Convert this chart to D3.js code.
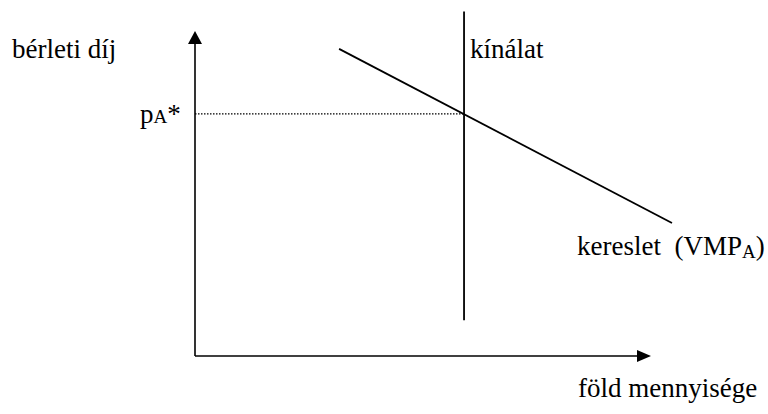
<!DOCTYPE html>
<html>
<head>
<meta charset="utf-8">
<script src="https://cdn.jsdelivr.net/npm/d3@7"></script>
<style>
  body { margin: 0; background: #fff; }
  text { font-family: "Liberation Serif", "Times New Roman", serif; fill: #000; }
</style>
</head>
<body>
<div id="chart"></div>
<script>

// quantity / price in arbitrary model units
let axisMax = [10, 10];
let supplyQ = 5.9;
let supplyP = [1.1, 10.6];
let demandQ = [3.16, 10.46];
let demandP = [9.45, 4.09];
let eqPrice = 7.45;

let width = 768;
let height = 414;

let x = d3.scaleLinear().domain([0, axisMax[0]]).range([195, 651]);
let y = d3.scaleLinear().domain([0, axisMax[1]]).range([356, 31]);

let svg = d3.select("#chart")
	.append("svg")
	.attr("width", width)
	.attr("height", height);

// axes
svg.append("line")
	.attr("x1", x(0)).attr("y1", y(0))
	.attr("x2", x(0)).attr("y2", y(axisMax[1]) + 10)
	.attr("stroke", "#000")
	.attr("stroke-width", 1.6);

svg.append("line")
	.attr("x1", x(0)).attr("y1", y(0))
	.attr("x2", x(axisMax[0]) - 10).attr("y2", y(0))
	.attr("stroke", "#000")
	.attr("stroke-width", 1.6);

// arrow heads
svg.append("path")
	.attr("d", d3.line()([[x(0), y(axisMax[1])], [x(0) - 7, y(axisMax[1]) + 13], [x(0) + 7, y(axisMax[1]) + 13]]) + "Z")
	.attr("fill", "#000");

svg.append("path")
	.attr("d", d3.line()([[x(axisMax[0]), y(0)], [x(axisMax[0]) - 14, y(0) - 6], [x(axisMax[0]) - 14, y(0) + 6]]) + "Z")
	.attr("fill", "#000");

// dotted equilibrium price line
svg.append("line")
	.attr("x1", x(0)).attr("y1", y(eqPrice))
	.attr("x2", x(supplyQ)).attr("y2", y(eqPrice))
	.attr("stroke", "#000")
	.attr("stroke-width", 1.3)
	.attr("stroke-dasharray", "1.5,1.5");

// supply
svg.append("line")
	.attr("x1", x(supplyQ)).attr("y1", y(supplyP[0]))
	.attr("x2", x(supplyQ)).attr("y2", y(supplyP[1]))
	.attr("stroke", "#000")
	.attr("stroke-width", 1.8);

// demand
svg.append("path")
	.attr("d", d3.line().x(d => x(d[0])).y(d => y(d[1]))(d3.zip(demandQ, demandP)))
	.attr("stroke", "#000")
	.attr("stroke-width", 1.8)
	.attr("fill", "none");

// labels
svg.append("text")
	.attr("x", 12).attr("y", 58)
	.style("font-size", "27px")
	.text("bérleti díj");

let pa = svg.append("text")
	.attr("x", 140).attr("y", 123)
	.style("font-size", "27px");
pa.append("tspan").text("p");
pa.append("tspan").style("font-size", "19px").text("A");
pa.append("tspan").text("*");

svg.append("text")
	.attr("x", 470).attr("y", 58)
	.style("font-size", "27px")
	.text("kínálat");

let ker = svg.append("text")
	.attr("x", 577).attr("y", 255)
	.style("font-size", "27px");
ker.append("tspan").text("kereslet\u00a0 (VMP");
ker.append("tspan").attr("dy", 3).style("font-size", "19px").text("A");
ker.append("tspan").attr("dy", -3).text(")");

svg.append("text")
	.attr("x", 578).attr("y", 397)
	.style("font-size", "27px")
	.text("föld mennyisége");

</script>
</body>
</html>
